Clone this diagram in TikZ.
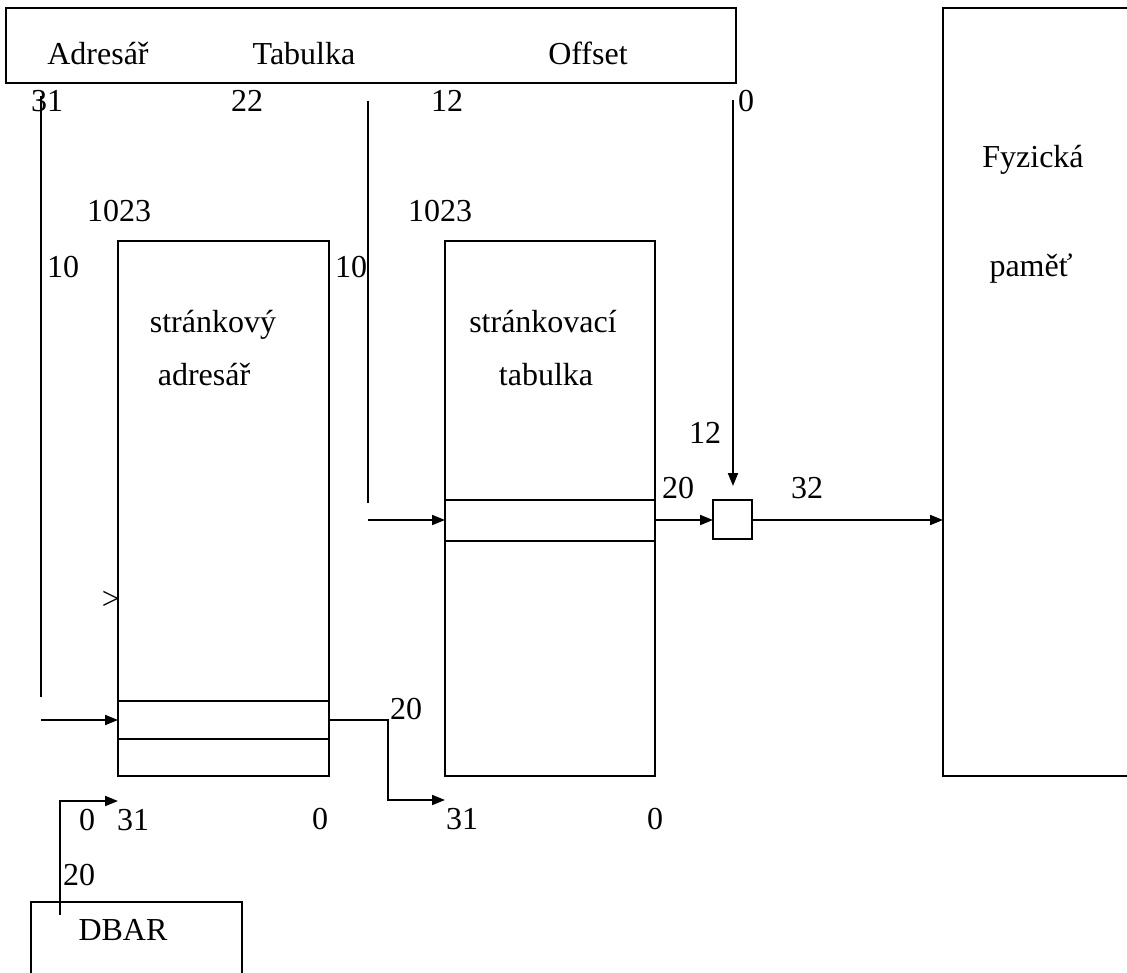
\documentclass[tikz,border=0pt]{standalone}
\usepackage{fontspec}
\setmainfont{Liberation Serif}
\usetikzlibrary{arrows.meta}
\begin{document}
\begin{tikzpicture}[x=1pt,y=-1pt,line width=2pt,
  box/.style={draw,rectangle,inner sep=0pt,outer sep=0pt},
  lbl/.style={inner sep=0pt,anchor=base,font=\fontsize{32}{38}\selectfont},
  arr/.style={-{Triangle[length=13pt,width=10pt]}}]
\useasboundingbox (0,0) rectangle (1127,973);
\clip (0,0) rectangle (1127,973);

% linear address register
\node[box,minimum width=730pt,minimum height=75pt] (va) at (371,45.5) {};
\node[lbl] (tAdr) at (98,65) {Adresář};
\node[lbl] (tTab) at (304,65) {Tabulka};
\node[lbl] (tOff) at (588,65) {Offset};
\node[lbl] (b31) at (47,112) {31};
\node[lbl] (b22) at (247,112) {22};
\node[lbl] (b12) at (447,112) {12};
\node[lbl] (b0) at (746,112) {0};

% physical memory
\node[box,minimum width=300pt,minimum height=768pt] (mem) at (1093,392) {};
\node[lbl] (tFyz) at (1033,168) {Fyzická};
\node[lbl] (tPam) at (1031,277) {paměť};

% page directory
\node[box,minimum width=211pt,minimum height=535pt] (dir) at (223.5,508.5) {};
\node[box,minimum width=211pt,minimum height=38pt] (drow) at (223.5,720) {};
\node[lbl] (d1023) at (119,222) {1023};
\node[lbl] (d10) at (63,278) {10};
\node[lbl] (dname1) at (213,333) {stránkový};
\node[lbl] (dname2) at (204,385) {adresář};
\node[inner sep=0pt,font=\fontsize{32}{38}\selectfont] (dmark) at (111,600) {>};
\node[lbl] (d31) at (133,830) {31};
\node[lbl] (d0) at (320,829) {0};

% page table
\node[box,minimum width=210pt,minimum height=535pt] (tab) at (550,508.5) {};
\node[box,minimum width=210pt,minimum height=41pt] (trow) at (550,520.5) {};
\node[lbl] (t1023) at (440,222) {1023};
\node[lbl] (t10) at (351,278) {10};
\node[lbl] (tname1) at (543,333) {stránkovací};
\node[lbl] (tname2) at (546,385) {tabulka};
\node[lbl] (t31) at (462,829) {31};
\node[lbl] (t0) at (655,829) {0};

% adder
\node[box,minimum width=39pt,minimum height=39pt] (sum) at (732.5,519.5) {};
\node[lbl] (s12) at (705,443) {12};
\node[lbl] (s20) at (678,498) {20};
\node[lbl] (s32) at (807,498) {32};

% DBAR register
\node[box,minimum width=211pt,minimum height=100pt] (dbar) at (136.5,952) {};
\node[lbl] (tDbar) at (123,940) {DBAR};
\node[lbl] (r20) at (79,885) {20};
\node[lbl] (r0) at (87,830) {0};
\node[lbl] (o20) at (406,719) {20};

% connector end points
\coordinate (busA) at (41,96);
\coordinate (busAend) at (41,697);
\coordinate (dirin) at (41,720);
\coordinate (busB) at (368,101);
\coordinate (busBend) at (368,503);
\coordinate (tabin) at (368,520);
\coordinate (busC) at (733,100);
\coordinate (busCend) at (733,486);
\coordinate (bend) at (388,800);
\coordinate (tbase) at (445,800);
\coordinate (dbarout) at (60,915);
\coordinate (dbase) at (118,801);

% connectors
\draw (busA) -- (busAend);
\draw[arr] (dirin) -- (drow.west);
\draw (busB) -- (busBend);
\draw[arr] (tabin) -- (trow.west |- tabin);
\draw[arr] (busC) -- (busCend);
\draw[arr] (trow.east |- tabin) -- (sum.west |- tabin);
\draw[arr] (sum.east |- tabin) -- (mem.west |- tabin);
\draw[arr] (drow.east) -| (bend) -- (tbase);
\draw[arr] (dbarout) |- (dbase);
\end{tikzpicture}
\end{document}
